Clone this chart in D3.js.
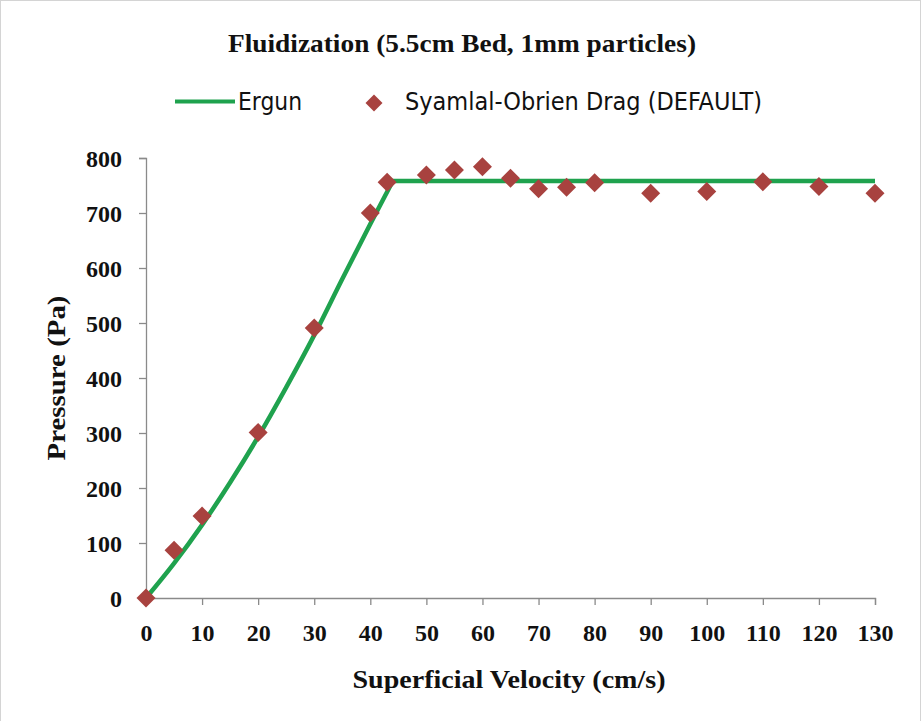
<!DOCTYPE html>
<html>
<head>
<meta charset="utf-8">
<script src="https://cdn.jsdelivr.net/npm/d3@7"></script>
<style>
  html, body { margin: 0; padding: 0; background: #fff; }
  svg { display: block; }
</style>
</head>
<body>
<svg id="chart" width="922" height="721"></svg>
<script>
// measured points (Syamlal-Obrien drag)
const velocity = [0, 5, 10, 20, 30, 40, 43, 50, 55, 60, 65, 70, 75, 80, 90, 100, 110, 120, 130];
const pressure = [0, 87, 149, 301, 491, 700, 756, 769, 778, 784, 763, 744, 747, 755, 736, 739, 757, 748, 736];

// Ergun curve: rising part, then the flat plateau
const ergunU = [0, 5, 10, 15, 20, 25, 30, 35, 40, 44];
const ergunP = [0, 63, 133, 210, 293, 383, 478, 580, 680, 758];
const plateauU = [44, 130];
const plateauP = [758, 758];

const xTicks = [0, 10, 20, 30, 40, 50, 60, 70, 80, 90, 100, 110, 120, 130];
const yTicks = [0, 100, 200, 300, 400, 500, 600, 700, 800];

const titleText = 'Fluidization (5.5cm Bed, 1mm particles)';
const xLabel = 'Superficial Velocity (cm/s)';
const yLabel = 'Pressure (Pa)';
const seriesNames = ['Ergun', 'Syamlal-Obrien Drag (DEFAULT)'];

const GREEN = '#1fa24e';
const RED = '#a8423f';
const AXIS = '#8a8a8a';
const SERIF = '"Liberation Serif", "DejaVu Serif", serif';
const NARROW = '"Liberation Sans Narrow", "DejaVu Sans Condensed", "Liberation Sans", sans-serif';

const svg = d3.select('#chart');

// outer frame
svg.append('rect')
  .attr('x', 0.5).attr('y', 0.5)
  .attr('width', 920).attr('height', 740)
  .attr('fill', 'none')
  .attr('stroke', '#d4d4d4');

const x = d3.scaleLinear().domain([0, 130]).range([146, 875]);
const y = d3.scaleLinear().domain([0, 800]).range([598, 158]);

// title
svg.append('text')
  .attr('x', 462).attr('y', 52)
  .attr('text-anchor', 'middle')
  .attr('font-family', SERIF)
  .attr('font-weight', 'bold')
  .attr('font-size', 25)
  .attr('textLength', 468)
  .attr('lengthAdjust', 'spacingAndGlyphs')
  .attr('fill', '#111')
  .text(titleText);

// legend
const leg = svg.append('g');
leg.append('line')
  .attr('x1', 175).attr('x2', 235)
  .attr('y1', 101.5).attr('y2', 101.5)
  .attr('stroke', GREEN).attr('stroke-width', 4);
leg.append('text')
  .attr('x', 238).attr('y', 110)
  .attr('font-family', NARROW)
  .attr('font-size', 25)
  .attr('textLength', 64)
  .attr('lengthAdjust', 'spacingAndGlyphs')
  .attr('fill', '#111')
  .text(seriesNames[0]);
leg.append('path')
  .attr('d', 'M0,-8.5L8.5,0L0,8.5L-8.5,0Z')
  .attr('transform', 'translate(374,103)')
  .attr('fill', RED);
leg.append('text')
  .attr('x', 405).attr('y', 110)
  .attr('font-family', NARROW)
  .attr('font-size', 25)
  .attr('textLength', 357)
  .attr('lengthAdjust', 'spacingAndGlyphs')
  .attr('fill', '#111')
  .text(seriesNames[1]);

// axes
const xAxis = svg.append('g')
  .attr('transform', `translate(0,${y(0)})`)
  .call(d3.axisBottom(x).tickValues(xTicks).tickSize(7).tickSizeOuter(7).tickFormat(d3.format('d')));
const yAxis = svg.append('g')
  .attr('transform', `translate(${x(0)},0)`)
  .call(d3.axisLeft(y).tickValues(yTicks).tickSize(7).tickSizeOuter(7).tickFormat(d3.format('d')));

[xAxis, yAxis].forEach(a => {
  a.select('.domain').attr('stroke', AXIS).attr('stroke-width', 1.3);
  a.selectAll('.tick line').attr('stroke', AXIS).attr('stroke-width', 1.3);
  a.selectAll('.tick text')
    .attr('font-family', SERIF)
    .attr('font-weight', 'bold')
    .attr('font-size', 24)
    .attr('fill', '#111');
});
xAxis.selectAll('.tick text').attr('y', 26).attr('dy', '0.71em');
yAxis.selectAll('.tick text').attr('x', -24).attr('dy', '0.34em');

// axis titles
svg.append('text')
  .attr('x', 509).attr('y', 688)
  .attr('text-anchor', 'middle')
  .attr('font-family', SERIF)
  .attr('font-weight', 'bold')
  .attr('font-size', 26)
  .attr('textLength', 313)
  .attr('lengthAdjust', 'spacingAndGlyphs')
  .attr('fill', '#111')
  .text(xLabel);

svg.append('text')
  .attr('transform', 'translate(65,378) rotate(-90)')
  .attr('text-anchor', 'middle')
  .attr('font-family', SERIF)
  .attr('font-weight', 'bold')
  .attr('font-size', 25)
  .attr('textLength', 165)
  .attr('lengthAdjust', 'spacingAndGlyphs')
  .attr('fill', '#111')
  .text(yLabel);

// Ergun line
const rising = ergunU.map((u, i) => ({ u, p: ergunP[i] }));
const plateau = plateauU.map((u, i) => ({ u, p: plateauP[i] }));
const smooth = d3.line().x(d => x(d.u)).y(d => y(d.p)).curve(d3.curveMonotoneX);
const straight = d3.line().x(d => x(d.u)).y(d => y(d.p));
svg.append('path')
  .attr('d', smooth(rising) + straight(plateau).replace(/^M/, 'L'))
  .attr('fill', 'none')
  .attr('stroke', GREEN)
  .attr('stroke-width', 4.5)
  .attr('stroke-linejoin', 'round');

// diamonds
const pts = velocity.map((v, i) => ({ v, p: pressure[i] }));
svg.append('g').selectAll('path')
  .data(pts)
  .join('path')
  .attr('d', 'M0,-9.5L9.5,0L0,9.5L-9.5,0Z')
  .attr('transform', d => `translate(${x(d.v)},${y(d.p)})`)
  .attr('fill', RED);
</script>
</body>
</html>
